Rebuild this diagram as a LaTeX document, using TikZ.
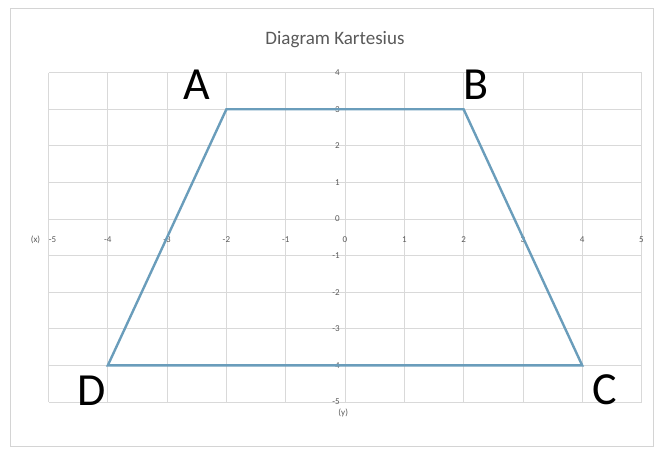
\documentclass[tikz,border=0pt]{standalone}
\usepackage{fontspec}
\setmainfont{Carlito}
\usepackage{tikz}
\usetikzlibrary{positioning, calc}
\definecolor{GridGray}{HTML}{D9D9D9}
\definecolor{FrameGray}{HTML}{D4D4D4}
\definecolor{TextGray}{HTML}{595959}
\definecolor{LineBlue}{HTML}{6A9DBB}

\begin{document}
\begin{tikzpicture}[x=59.3pt, y=36.6pt,
    gridline/.style={GridGray, line width=0.8pt},
    shape line/.style={LineBlue, line width=2.4pt, line join=miter},
    ticklabel/.style={text=TextGray, font=\fontsize{9}{10}\selectfont, inner sep=1pt},
    cornerlabel/.style={text=black, font=\fontsize{46}{48}\selectfont, inner sep=0pt}]
  \useasboundingbox (-5.818,-6.284) rectangle (5.295,5.984);
  \draw[FrameGray, line width=1pt] (-5.649,-6.202) rectangle (5.194,5.738);

  \node[text=TextGray, font=\fontsize{19}{21}\selectfont] (title) at (-0.17,4.89) {Diagram Kartesius};

  % grid
  \foreach \gx in {-5,...,5}
    \draw[gridline] (\gx,-5) -- (\gx,4);
  \foreach \gy in {-5,...,4}
    \draw[gridline] (-5,\gy) -- (5,\gy);

  % tick labels
  \foreach \gx in {-4,...,5}
    \node[ticklabel] (xt\gx) at (\gx,-0.574) {\gx};
  \node[ticklabel] (xtm5) at (-4.93,-0.574) {-5};
  \foreach \gy in {-5,...,4}
    \node[ticklabel, anchor=east] (yt\gy) at (-0.07,\gy) {\gy};
  \node[ticklabel, anchor=east] (xname) at (-5.12,-0.574) {(x)};
  \node[ticklabel] (yname) at (-0.03,-5.30) {(y)};

  % trapezium
  \coordinate (A) at (-2,3);
  \coordinate (B) at (2,3);
  \coordinate (C) at (4,-4);
  \coordinate (D) at (-4,-4);
  \draw[shape line] (A) -- (B) -- (C) -- (D) -- cycle;

  \node[cornerlabel] (labA) at (-2.50,3.66) {A};
  \node[cornerlabel] (labB) at (2.21,3.66) {B};
  \node[cornerlabel] (labC) at (4.38,-4.67) {C};
  \node[cornerlabel] (labD) at (-4.27,-4.70) {D};
\end{tikzpicture}
\end{document}
